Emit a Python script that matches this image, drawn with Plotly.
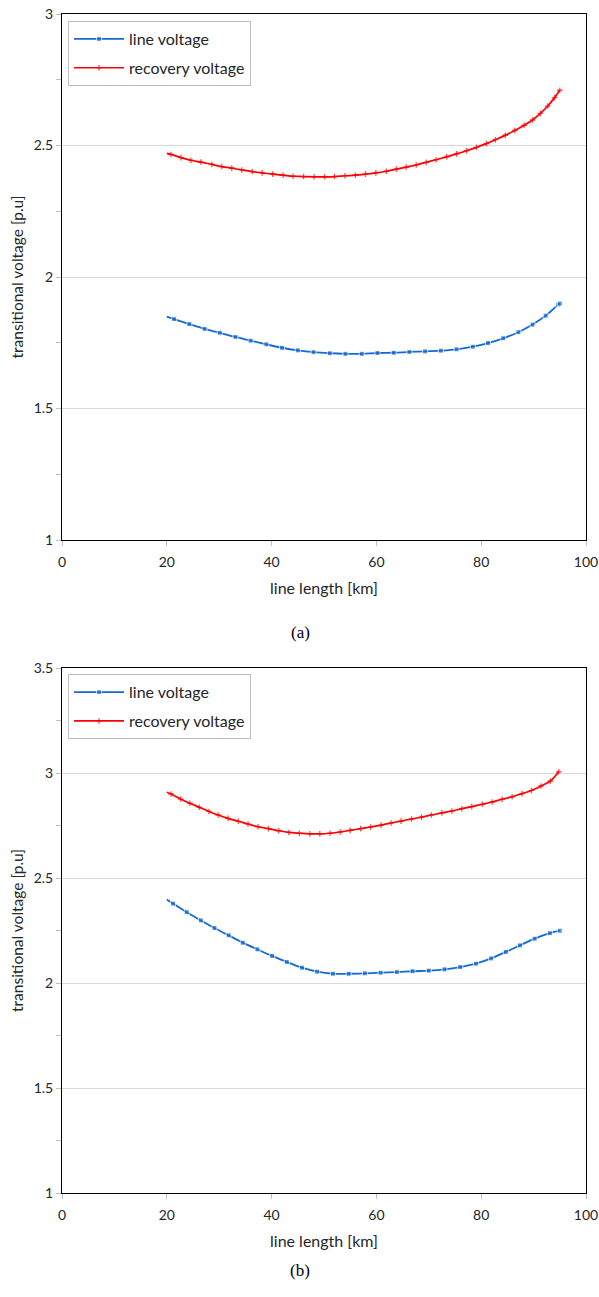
import plotly.graph_objects as go

# ---------------- data: panel (a) ----------------
a_line_x = [20.0, 21.4, 24.3, 27.2, 30.1, 33.1, 36.0, 39.0, 42.0, 45.0, 48.0, 51.1, 54.1, 57.2,
            60.2, 63.3, 66.3, 69.3, 72.3, 75.3, 78.4, 81.3, 84.2, 87.1, 89.8, 92.3, 94.7, 95.0]
a_line_y = [1.849, 1.840, 1.821, 1.803, 1.788, 1.772, 1.758, 1.744, 1.731, 1.721, 1.714, 1.710,
            1.708, 1.708, 1.711, 1.712, 1.715, 1.717, 1.720, 1.725, 1.735, 1.749, 1.767, 1.790,
            1.819, 1.853, 1.895, 1.899]
a_rec_x = [20.0, 20.8, 22.7, 24.6, 26.5, 28.6, 30.5, 32.4, 34.3, 36.3, 38.2, 40.2, 42.2, 44.1,
           46.1, 48.1, 50.1, 52.0, 54.0, 56.0, 57.9, 59.9, 61.9, 63.8, 65.7, 67.6, 69.5, 71.4,
           73.4, 75.3, 77.2, 79.1, 81.0, 82.7, 84.6, 86.4, 88.2, 89.8, 91.3, 92.7, 94.0, 95.0]
a_rec_y = [2.470, 2.466, 2.454, 2.444, 2.437, 2.428, 2.420, 2.414, 2.407, 2.401, 2.396, 2.391,
           2.387, 2.383, 2.382, 2.381, 2.381, 2.382, 2.385, 2.387, 2.391, 2.396, 2.402, 2.410,
           2.418, 2.426, 2.436, 2.446, 2.457, 2.468, 2.480, 2.493, 2.507, 2.522, 2.539, 2.557,
           2.577, 2.597, 2.622, 2.650, 2.682, 2.710]

# ---------------- data: panel (b) ----------------
b_line_x = [20.0, 21.2, 23.8, 26.5, 29.1, 31.8, 34.5, 37.3, 40.1, 42.9, 45.8, 48.7, 51.7, 54.7,
            57.8, 60.8, 63.9, 66.9, 70.0, 73.0, 76.0, 79.0, 81.9, 84.7, 87.4, 90.2, 93.1, 95.0]
b_line_y = [2.398, 2.378, 2.337, 2.298, 2.262, 2.227, 2.192, 2.160, 2.129, 2.100, 2.073, 2.054,
            2.044, 2.044, 2.046, 2.049, 2.052, 2.056, 2.059, 2.065, 2.076, 2.092, 2.117, 2.148,
            2.179, 2.211, 2.237, 2.249]
b_rec_x = [20.0, 20.8, 22.65, 24.4, 26.2, 28.05, 29.8, 31.7, 33.65, 35.5, 37.4, 39.4, 41.35, 43.3,
           45.3, 47.3, 49.2, 51.15, 53.1, 55.0, 57.0, 58.9, 60.9, 62.8, 64.7, 66.7, 68.6, 70.5,
           72.5, 74.4, 76.3, 78.2, 80.2, 82.1, 84.0, 85.9, 87.8, 89.6, 91.4, 93.2, 94.8]
b_rec_y = [2.908, 2.900, 2.876, 2.856, 2.837, 2.817, 2.800, 2.784, 2.770, 2.757, 2.744, 2.735,
           2.725, 2.717, 2.713, 2.710, 2.710, 2.713, 2.719, 2.727, 2.735, 2.743, 2.752, 2.762,
           2.771, 2.781, 2.790, 2.800, 2.810, 2.819, 2.830, 2.840, 2.851, 2.862, 2.875, 2.887,
           2.902, 2.917, 2.938, 2.962, 3.006]

series_names = ["line voltage", "recovery voltage"]
panel_labels = ["(a)", "(b)"]
x_ticks = [0, 20, 40, 60, 80, 100]

BLUE = "#1569d0"
RED = "#ff0000"
FONT = "Lato"
TXT = "#262626"

fig = go.Figure()


def add_pair(lx, ly, rx, ry, xa, ya, legend):
    fig.add_trace(go.Scatter(
        x=lx, y=ly, name=series_names[0], mode="lines+markers", legendgroup="g1" + legend,
        line=dict(color=BLUE, width=1.8, shape="spline"),
        marker=dict(symbol="square", size=[0] + [5] * (len(lx) - 1), color=BLUE),
        xaxis=xa, yaxis=ya, legend=legend))
    fig.add_trace(go.Scatter(
        x=rx, y=ry, name=series_names[1], mode="lines+markers", legendgroup="g2" + legend,
        line=dict(color=RED, width=1.7, shape="spline"),
        marker=dict(symbol="cross-thin", size=[0] + [4] * (len(rx) - 1),
                    line=dict(color=RED, width=1.3), color=RED),
        xaxis=xa, yaxis=ya, legend=legend))


add_pair(a_line_x, a_line_y, a_rec_x, a_rec_y, "x", "y", "legend")
add_pair(b_line_x, b_line_y, b_rec_x, b_rec_y, "x2", "y2", "legend2")

# plot areas in paper coords (margins l=62, r=13, t=14, b=104 -> 524 x 1179)
dom_a = [653 / 1179, 1.0]
dom_b = [0.0, 525 / 1179]

xcommon = dict(range=[0, 100], tickvals=x_ticks, showgrid=False, zeroline=False,
               showline=True, linecolor="#000000", linewidth=1, mirror=True,
               ticks="outside", ticklen=5, tickcolor="#bfbfbf", automargin=False,
               ticklabelstandoff=4,
               tickfont=dict(family=FONT, size=14, color=TXT),
               title=dict(text="line length [km]", font=dict(family=FONT, size=16, color=TXT),
                          standoff=14))
ycommon = dict(showgrid=True, gridcolor="#d9d9d9", gridwidth=1, zeroline=False,
               showline=True, linecolor="#000000", linewidth=1, mirror=True,
               ticks="outside", ticklen=5, tickcolor="#bfbfbf", dtick=0.5, automargin=False,
               minor=dict(dtick=0.25, ticks="outside", ticklen=5, tickcolor="#bfbfbf", showgrid=False),
               tickfont=dict(family=FONT, size=14, color=TXT),
               title=dict(text="transitional voltage [p.u]",
                          font=dict(family=FONT, size=15.5, color=TXT), standoff=6))

legend_common = dict(xanchor="left", yanchor="top", itemwidth=50,
                     bordercolor="#bfbfbf", borderwidth=1, bgcolor="white",
                     font=dict(family=FONT, size=16, color=TXT), tracegroupgap=5)

fig.update_layout(
    width=599, height=1297,
    margin=dict(l=62, r=13, t=14, b=104, autoexpand=False),
    paper_bgcolor="white", plot_bgcolor="white",
    showlegend=True,
    xaxis=dict(domain=[0, 1], anchor="y", **xcommon),
    yaxis=dict(domain=dom_a, anchor="x", range=[1, 3], **ycommon),
    xaxis2=dict(domain=[0, 1], anchor="y2", **xcommon),
    yaxis2=dict(domain=dom_b, anchor="x2", range=[1, 3.5], **ycommon),
    legend=dict(x=0.0115, y=0.994, **legend_common),
    legend2=dict(x=0.0115, y=0.440, **legend_common),
)

fig.add_annotation(text=panel_labels[0], xref="paper", yref="paper",
                   x=(300 - 62) / 524, y=(1193 - 632) / 1179, showarrow=False,
                   font=dict(family="Liberation Serif", size=17, color="#000"))
fig.add_annotation(text=panel_labels[1], xref="paper", yref="paper",
                   x=(300 - 62) / 524, y=(1193 - 1282) / 1179, showarrow=False,
                   font=dict(family="Liberation Serif", size=17, color="#000"))

fig.write_html("out.html", config={"displayModeBar": False},
               post_script="document.body.style.margin='0';document.body.style.overflow='hidden';")
